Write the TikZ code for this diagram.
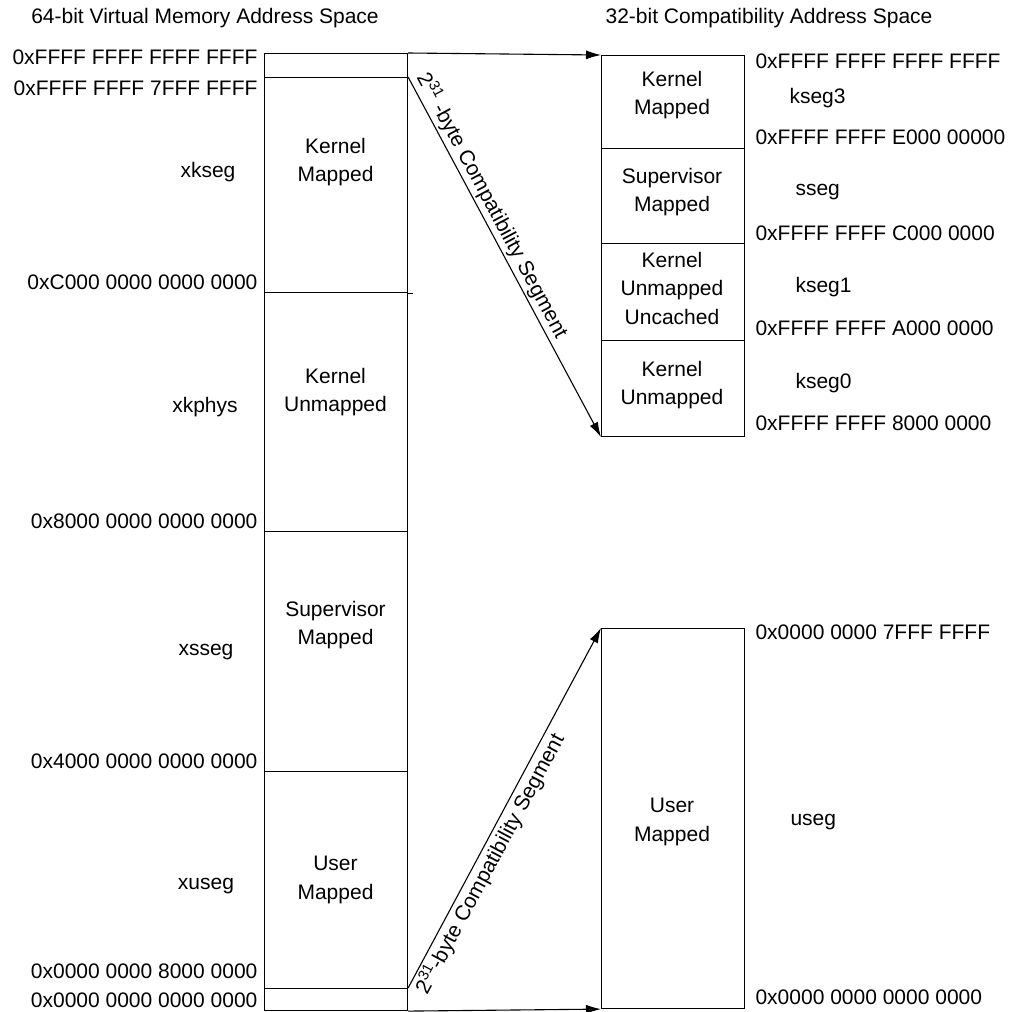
\documentclass[tikz,border=0pt]{standalone}
\usepackage{fontspec}
\setmainfont{Liberation Sans}
\usetikzlibrary{arrows.meta}

\begin{document}
\begin{tikzpicture}[x=1pt, y=-1pt, line width=1.1pt,
  seg/.style={draw, rectangle, minimum width=143pt, inner sep=0pt, anchor=north west},
  txt/.style={font=\fontsize{21}{28.5}\selectfont, align=center, inner sep=0pt},
  addrL/.style={txt, anchor=east},
  addrR/.style={txt, anchor=west},
  arr/.style={-{Latex[length=15pt, width=9pt]}},
  seglabel/.style={txt, sloped, inner sep=2pt}]

% canvas
\fill[white] (0,0) rectangle (1011,1012);
\useasboundingbox (0,0) rectangle (1011,1012);

% titles
\node[txt] (title64) at (205,18) {64-bit Virtual Memory Address Space};
\node[txt] (title32) at (769,18) {32-bit Compatibility Address Space};

% 64-bit address space column
\node[seg, minimum height=24pt]  (L0) at (264,53)  {};
\node[seg, minimum height=215pt] (L1) at (264,77)  {};
\node[seg, minimum height=239pt] (L2) at (264,292) {};
\node[seg, minimum height=240pt] (L3) at (264,531) {};
\node[seg, minimum height=217pt] (L4) at (264,771) {};
\node[seg, minimum height=22pt]  (L5) at (264,988) {};
\draw (L1.south east) -- ++(5,0);

\node[txt] (t1) at (335.5,162) {Kernel\\Mapped};
\node[txt] (t2) at (335.5,392) {Kernel\\Unmapped};
\node[txt] (t3) at (335.5,625) {Supervisor\\Mapped};
\node[txt] (t4) at (335.5,880) {User\\Mapped};

% 64-bit boundaries and segment names
\node[addrL] (a1) at (258,57.5) {0xFFFF FFFF FFFF FFFF};
\node[addrL] (a2) at (258,88)   {0xFFFF FFFF 7FFF FFFF};
\node[txt]   (n1) at (208,172)  {xkseg};
\node[addrL] (a3) at (258,282)  {0xC000 0000 0000 0000};
\node[txt]   (n2) at (205,407)  {xkphys};
\node[addrL] (a4) at (258,521)  {0x8000 0000 0000 0000};
\node[txt]   (n3) at (206,652)  {xsseg};
\node[addrL] (a5) at (258,761)  {0x4000 0000 0000 0000};
\node[txt]   (n4) at (206,886)  {xuseg};
\node[addrL] (a6) at (258,971)  {0x0000 0000 8000 0000};
\node[addrL] (a7) at (258,1000) {0x0000 0000 0000 0000};

% 32-bit compatibility address space
\node[seg, minimum height=93pt]  (R1) at (601,55)  {};
\node[seg, minimum height=95pt]  (R2) at (601,148) {};
\node[seg, minimum height=97pt]  (R3) at (601,243) {};
\node[seg, minimum height=96pt]  (R4) at (601,340) {};
\node[seg, minimum height=380pt] (RU) at (601,628) {};

\node[txt] (r1) at (672,95)  {Kernel\\Mapped};
\node[txt] (r2) at (672,192) {Supervisor\\Mapped};
\node[txt] (r3) at (672,288) {Kernel\\Unmapped\\Uncached};
\node[txt] (r4) at (672,385) {Kernel\\Unmapped};
\node[txt] (r5) at (672,822) {User\\Mapped};

\node[addrR] (b1) at (755,61.7) {0xFFFF FFFF FFFF FFFF};
\node[addrR] (k3) at (789,98)   {kseg3};
\node[addrR] (b2) at (755,137)  {0xFFFF FFFF E000 00000};
\node[addrR] (ks) at (795,192)  {sseg};
\node[addrR] (b3) at (755,233)  {0xFFFF FFFF C000 0000};
\node[addrR] (k1) at (795,287)  {kseg1};
\node[addrR] (b4) at (755,328)  {0xFFFF FFFF A000 0000};
\node[addrR] (k0) at (795,383)  {kseg0};
\node[addrR] (b5) at (755,423)  {0xFFFF FFFF 8000 0000};
\node[addrR] (b6) at (755,632)  {0x0000 0000 7FFF FFFF};
\node[addrR] (ku) at (790,822)  {useg};
\node[addrR] (b7) at (755,997)  {0x0000 0000 0000 0000};

% mapping arrows
\draw[arr] (L0.north east) -- (R1.north west);
\draw[arr] (L1.north east) -- node[seglabel, pos=0, anchor=south west, xshift=2pt]
  {2\textsuperscript{31} -byte Compatibility Segment} (R4.south west);
\draw[arr] (L5.north east) -- node[seglabel, pos=0, anchor=north west]
  {2\textsuperscript{31}-byte Compatibility Segment} (RU.north west);
\draw[arr] (L5.south east) -- (RU.south west);

\end{tikzpicture}
\end{document}
